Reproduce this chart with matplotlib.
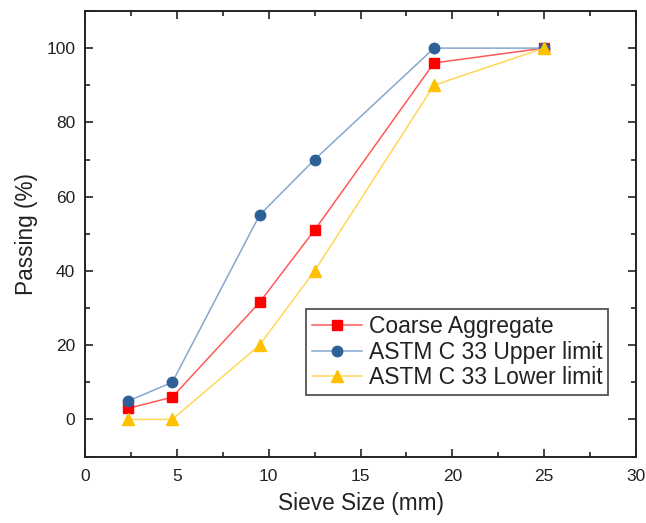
import matplotlib
matplotlib.use("Agg")
import matplotlib.pyplot as plt
from matplotlib.ticker import MultipleLocator

plt.rcParams["font.family"] = ["Liberation Sans", "DejaVu Sans"]

# Sieve sizes (mm) and cumulative percent passing
sieve_mm = [2.36, 4.75, 9.5, 12.5, 19, 25]
coarse_agg = [3, 6, 31.5, 51, 96, 100]
astm_upper = [5, 10, 55, 70, 100, 100]
astm_lower = [0, 0, 20, 40, 90, 100]

series = [
    ("Coarse Aggregate", coarse_agg, "s", "#FF0000", "#FF5A5A", 6.5),
    ("ASTM C 33 Upper limit", astm_upper, "o", "#2E5F97", "#86A7CF", 7.5),
    ("ASTM C 33 Lower limit", astm_lower, "^", "#FFC000", "#FFD75A", 8.5),
]

fig = plt.figure(figsize=(6.46, 5.23), dpi=100)
ax = fig.add_axes([0.1316, 0.127, 0.853, 0.852])

for label, vals, mk, mcol, lcol, ms in series:
    ax.plot(sieve_mm, vals, color=lcol, linewidth=1.1, marker=mk,
            markersize=ms, markerfacecolor=mcol, markeredgecolor=mcol,
            label=label)

ax.set_xlim(0, 30)
ax.set_ylim(-10, 110)
ax.xaxis.set_major_locator(MultipleLocator(5))
ax.xaxis.set_minor_locator(MultipleLocator(2.5))
ax.yaxis.set_major_locator(MultipleLocator(20))
ax.yaxis.set_minor_locator(MultipleLocator(10))

ax.tick_params(which="both", direction="in", top=True, right=True,
               width=1.2, colors="#222222", labelcolor="#222222")
ax.tick_params(which="major", length=6, labelsize=12.5, pad=7)
ax.tick_params(axis="x", which="major", pad=9)
ax.tick_params(which="minor", length=3.5)
for sp in ax.spines.values():
    sp.set_linewidth(1.4)
    sp.set_color("#222222")

ax.set_xlabel("Sieve Size (mm)", fontsize=16.3, color="#222222", labelpad=6)
ax.set_ylabel("Passing (%)", fontsize=16.3, color="#222222", labelpad=6)

leg = ax.legend(loc="upper left", bbox_to_anchor=(0.401, 0.331),
                borderaxespad=0, fontsize=16.5, fancybox=False,
                edgecolor="#444444", framealpha=1, handlelength=2.2,
                handletextpad=0.3, labelspacing=0.12, borderpad=0.25)
leg.get_frame().set_linewidth(1.2)
for t in leg.get_texts():
    t.set_color("#222222")

fig.savefig("out.png", dpi=100)
